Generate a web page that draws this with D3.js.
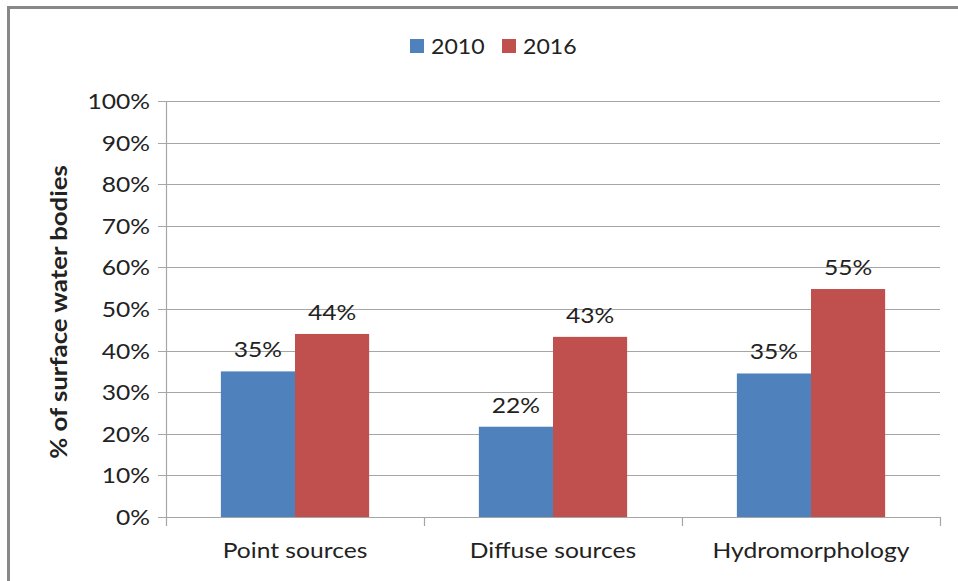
<!DOCTYPE html>
<html>
<head>
<meta charset="utf-8">
<script src="https://cdn.jsdelivr.net/npm/d3@7"></script>
<style>
  body { margin: 0; background: #fff; }
  text { font-family: Lato, "Open Sans", sans-serif; fill: #222; }
</style>
</head>
<body>
<div id="chart"></div>
<script>
// data
var categories = ["Point sources", "Diffuse sources", "Hydromorphology"];
var years = ["2010", "2016"];
var values2010 = [35, 21.7, 34.5];
var values2016 = [44, 43.3, 54.8];
var labels2010 = ["35%", "22%", "35%"];
var labels2016 = ["44%", "43%", "55%"];
var yTicks = [0, 10, 20, 30, 40, 50, 60, 70, 80, 90, 100];
var colors = ["#4f81bd", "#c0504d"];

var width = 958, height = 581;
var margin = {left: 166, right: 18, top: 101, bottom: 64};
// the source text looks a bit stretched sideways
var sx = 1.12;

var svg = d3.select("#chart").append("svg")
    .attr("width", width)
    .attr("height", height);

// frame
svg.append("path")
    .attr("d", "M8.5," + height + " V7.5 H" + width)
    .attr("fill", "none")
    .attr("stroke", "#888")
    .attr("stroke-width", 3);

var x0 = d3.scaleBand()
    .domain(categories)
    .range([margin.left, width - margin.right])
    .paddingInner(0)
    .paddingOuter(0);

var x1 = d3.scaleBand()
    .domain(years)
    .range([0, x0.bandwidth()])
    .paddingInner(0)
    .paddingOuter(0.74);

var y = d3.scaleLinear()
    .domain([0, 100])
    .range([height - margin.bottom, margin.top]);

function place(x, y, s) {
  return "translate(" + x + "," + y + ") scale(" + (s || sx) + ",1)";
}

var g = svg.append("g");

//gridlines
g.selectAll(".grid")
    .data(yTicks)
    .enter()
    .append("line")
    .attr("x1", margin.left - 8)
    .attr("x2", width - margin.right)
    .attr("y1", function(d){ return Math.round(y(d)) + 0.5; })
    .attr("y2", function(d){ return Math.round(y(d)) + 0.5; })
    .attr("stroke", "#a6a6a6")
    .attr("stroke-width", 1.2);

// y tick labels
g.selectAll(".ytick")
    .data(yTicks)
    .enter()
    .append("text")
    .attr("transform", function(d){ return place(margin.left - 16, y(d)); })
    .attr("dy", "0.36em")
    .attr("text-anchor", "end")
    .style("font-size", "22px")
    .text(function(d){ return d + "%"; });

// bars
var series = [values2010, values2016];
var seriesLabels = [labels2010, labels2016];
years.forEach(function(yr, si){
  var grp = g.append("g");
  grp.selectAll("rect")
      .data(categories)
      .enter()
      .append("rect")
      .attr("x", function(c){ return x0(c) + x1(yr); })
      .attr("width", x1.bandwidth())
      .attr("y", function(c, i){ return y(series[si][i]); })
      .attr("height", function(c, i){ return y(0) - y(series[si][i]); })
      .attr("fill", colors[si]);
  grp.selectAll("text")
      .data(categories)
      .enter()
      .append("text")
      .attr("transform", function(c, i){
        return place(x0(c) + x1(yr) + x1.bandwidth() / 2, y(series[si][i]) - 14);
      })
      .attr("text-anchor", "middle")
      .style("font-size", "22px")
      .text(function(c, i){ return seriesLabels[si][i]; });
});

// axis lines
g.append("line")
    .attr("x1", margin.left + 0.5).attr("x2", margin.left + 0.5)
    .attr("y1", y(100)).attr("y2", y(0) + 9)
    .attr("stroke", "#a6a6a6").attr("stroke-width", 1.2);

var xb = categories.map(function(c){ return x0(c); }).concat([width - margin.right]);
g.selectAll(".xtick")
    .data(xb.slice(1))
    .enter()
    .append("line")
    .attr("x1", function(d){ return Math.round(d) + 0.5; })
    .attr("x2", function(d){ return Math.round(d) + 0.5; })
    .attr("y1", y(0))
    .attr("y2", y(0) + 9)
    .attr("stroke", "#a6a6a6").attr("stroke-width", 1.2);

// category labels
g.selectAll(".xlab")
    .data(categories)
    .enter()
    .append("text")
    .attr("transform", function(c){ return place(x0(c) + x0.bandwidth() / 2, y(0) + 41); })
    .attr("text-anchor", "middle")
    .style("font-size", "22px")
    .text(function(c){ return c; });

// y axis title
svg.append("text")
    .attr("transform", "translate(67,312) rotate(-90) scale(1.17,1)")
    .attr("text-anchor", "middle")
    .style("font-size", "22px")
    .style("font-weight", "bold")
    .text("% of surface water bodies");

// legend
var legendX = [410, 502];
years.forEach(function(yr, i){
  svg.append("rect")
      .attr("x", legendX[i]).attr("y", 39)
      .attr("width", 14).attr("height", 14)
      .attr("fill", colors[i]);
  svg.append("text")
      .attr("transform", place(legendX[i] + 21, 46, 1.05))
      .attr("dy", "0.36em")
      .style("font-size", "22px")
      .text(yr);
});
</script>
</body>
</html>
